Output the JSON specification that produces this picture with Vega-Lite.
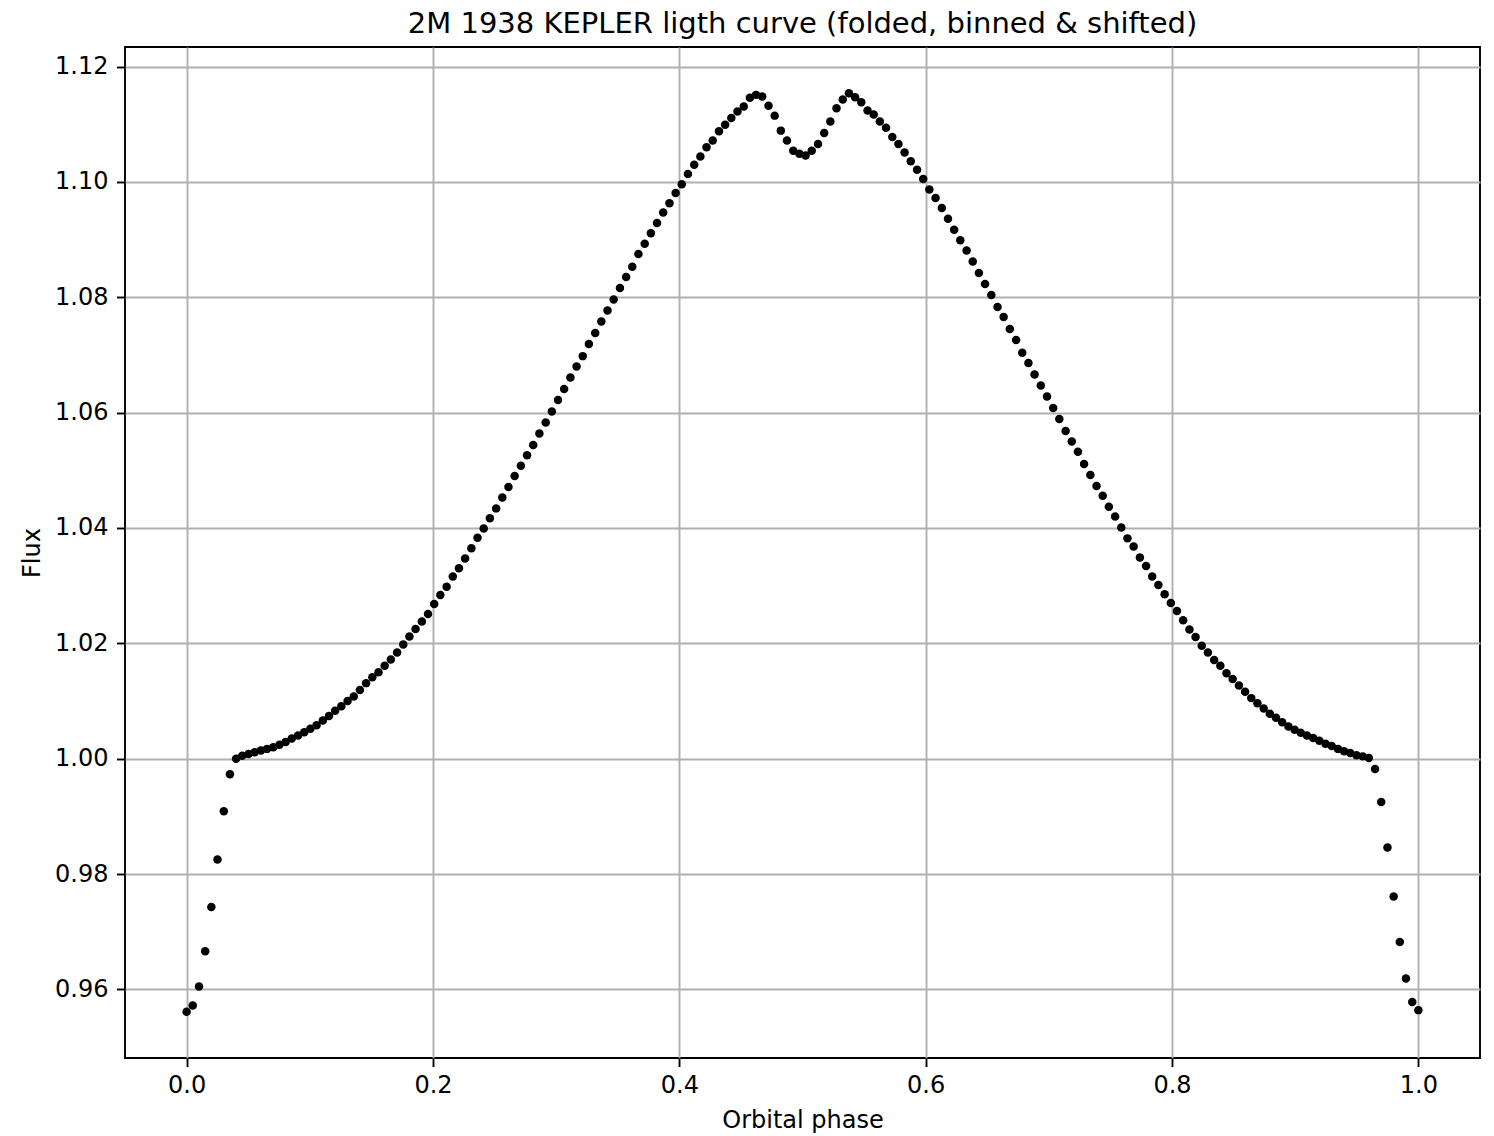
{
  "$schema": "https://vega.github.io/schema/vega-lite/v6.json",
  "autosize": {"type": "none"},
  "padding": {"left": 125, "top": 47, "right": 14, "bottom": 78},
  "width": 1355,
  "height": 1011,
  "background": "white",
  "config": {
    "view": {"stroke": "black", "strokeWidth": 1.9},
    "font": "DejaVu Sans"
  },
  "title": {
    "text": "2M 1938 KEPLER ligth curve (folded, binned & shifted)",
    "font": "DejaVu Sans",
    "fontSize": 29,
    "fontWeight": "normal",
    "color": "black",
    "anchor": "middle",
    "offset": 8.4
  },
  "data": {
    "values": [
      {"phase": 0.0, "flux": 0.9561},
      {"phase": 0.0050, "flux": 0.9572},
      {"phase": 0.0101, "flux": 0.9605},
      {"phase": 0.0151, "flux": 0.9666},
      {"phase": 0.0201, "flux": 0.9743},
      {"phase": 0.0251, "flux": 0.9825},
      {"phase": 0.0302, "flux": 0.9909},
      {"phase": 0.0352, "flux": 0.9973},
      {"phase": 0.0402, "flux": 1.0000},
      {"phase": 0.0452, "flux": 1.0005},
      {"phase": 0.0503, "flux": 1.0008},
      {"phase": 0.0553, "flux": 1.0011},
      {"phase": 0.0603, "flux": 1.0014},
      {"phase": 0.0653, "flux": 1.0017},
      {"phase": 0.0704, "flux": 1.0020},
      {"phase": 0.0754, "flux": 1.0024},
      {"phase": 0.0804, "flux": 1.0029},
      {"phase": 0.0854, "flux": 1.0035},
      {"phase": 0.0905, "flux": 1.0040},
      {"phase": 0.0955, "flux": 1.0046},
      {"phase": 0.1005, "flux": 1.0052},
      {"phase": 0.1055, "flux": 1.0058},
      {"phase": 0.1106, "flux": 1.0066},
      {"phase": 0.1156, "flux": 1.0074},
      {"phase": 0.1206, "flux": 1.0083},
      {"phase": 0.1256, "flux": 1.0091},
      {"phase": 0.1307, "flux": 1.0100},
      {"phase": 0.1357, "flux": 1.0108},
      {"phase": 0.1407, "flux": 1.0119},
      {"phase": 0.1457, "flux": 1.0131},
      {"phase": 0.1508, "flux": 1.0141},
      {"phase": 0.1558, "flux": 1.0150},
      {"phase": 0.1608, "flux": 1.0161},
      {"phase": 0.1658, "flux": 1.0172},
      {"phase": 0.1709, "flux": 1.0184},
      {"phase": 0.1759, "flux": 1.0198},
      {"phase": 0.1809, "flux": 1.0212},
      {"phase": 0.1859, "flux": 1.0225},
      {"phase": 0.1910, "flux": 1.0238},
      {"phase": 0.1960, "flux": 1.0251},
      {"phase": 0.2010, "flux": 1.0268},
      {"phase": 0.2060, "flux": 1.0284},
      {"phase": 0.2111, "flux": 1.0298},
      {"phase": 0.2161, "flux": 1.0316},
      {"phase": 0.2211, "flux": 1.0330},
      {"phase": 0.2261, "flux": 1.0347},
      {"phase": 0.2312, "flux": 1.0365},
      {"phase": 0.2362, "flux": 1.0383},
      {"phase": 0.2412, "flux": 1.0399},
      {"phase": 0.2462, "flux": 1.0417},
      {"phase": 0.2513, "flux": 1.0434},
      {"phase": 0.2563, "flux": 1.0453},
      {"phase": 0.2613, "flux": 1.0471},
      {"phase": 0.2663, "flux": 1.0490},
      {"phase": 0.2714, "flux": 1.0508},
      {"phase": 0.2764, "flux": 1.0526},
      {"phase": 0.2814, "flux": 1.0544},
      {"phase": 0.2864, "flux": 1.0564},
      {"phase": 0.2915, "flux": 1.0583},
      {"phase": 0.2965, "flux": 1.0602},
      {"phase": 0.3015, "flux": 1.0622},
      {"phase": 0.3065, "flux": 1.0641},
      {"phase": 0.3116, "flux": 1.0661},
      {"phase": 0.3166, "flux": 1.0680},
      {"phase": 0.3216, "flux": 1.0698},
      {"phase": 0.3266, "flux": 1.0719},
      {"phase": 0.3317, "flux": 1.0738},
      {"phase": 0.3367, "flux": 1.0758},
      {"phase": 0.3417, "flux": 1.0777},
      {"phase": 0.3467, "flux": 1.0796},
      {"phase": 0.3518, "flux": 1.0816},
      {"phase": 0.3568, "flux": 1.0835},
      {"phase": 0.3618, "flux": 1.0853},
      {"phase": 0.3668, "flux": 1.0875},
      {"phase": 0.3719, "flux": 1.0893},
      {"phase": 0.3769, "flux": 1.0911},
      {"phase": 0.3819, "flux": 1.0929},
      {"phase": 0.3869, "flux": 1.0947},
      {"phase": 0.3920, "flux": 1.0963},
      {"phase": 0.3970, "flux": 1.0981},
      {"phase": 0.4020, "flux": 1.0996},
      {"phase": 0.4070, "flux": 1.1014},
      {"phase": 0.4121, "flux": 1.1030},
      {"phase": 0.4171, "flux": 1.1044},
      {"phase": 0.4221, "flux": 1.1060},
      {"phase": 0.4271, "flux": 1.1072},
      {"phase": 0.4322, "flux": 1.1088},
      {"phase": 0.4372, "flux": 1.1099},
      {"phase": 0.4422, "flux": 1.1111},
      {"phase": 0.4472, "flux": 1.1122},
      {"phase": 0.4523, "flux": 1.1131},
      {"phase": 0.4573, "flux": 1.1146},
      {"phase": 0.4623, "flux": 1.1151},
      {"phase": 0.4673, "flux": 1.1148},
      {"phase": 0.4724, "flux": 1.1132},
      {"phase": 0.4774, "flux": 1.1115},
      {"phase": 0.4824, "flux": 1.1089},
      {"phase": 0.4874, "flux": 1.1072},
      {"phase": 0.4925, "flux": 1.1054},
      {"phase": 0.4975, "flux": 1.1049},
      {"phase": 0.5025, "flux": 1.1046},
      {"phase": 0.5075, "flux": 1.1054},
      {"phase": 0.5126, "flux": 1.1066},
      {"phase": 0.5176, "flux": 1.1085},
      {"phase": 0.5226, "flux": 1.1105},
      {"phase": 0.5276, "flux": 1.1128},
      {"phase": 0.5327, "flux": 1.1143},
      {"phase": 0.5377, "flux": 1.1154},
      {"phase": 0.5427, "flux": 1.1147},
      {"phase": 0.5477, "flux": 1.1138},
      {"phase": 0.5528, "flux": 1.1124},
      {"phase": 0.5578, "flux": 1.1117},
      {"phase": 0.5628, "flux": 1.1105},
      {"phase": 0.5678, "flux": 1.1094},
      {"phase": 0.5729, "flux": 1.1078},
      {"phase": 0.5779, "flux": 1.1066},
      {"phase": 0.5829, "flux": 1.1051},
      {"phase": 0.5879, "flux": 1.1036},
      {"phase": 0.5930, "flux": 1.1021},
      {"phase": 0.5980, "flux": 1.1005},
      {"phase": 0.6030, "flux": 1.0987},
      {"phase": 0.6080, "flux": 1.0972},
      {"phase": 0.6131, "flux": 1.0955},
      {"phase": 0.6181, "flux": 1.0936},
      {"phase": 0.6231, "flux": 1.0917},
      {"phase": 0.6281, "flux": 1.0899},
      {"phase": 0.6332, "flux": 1.0881},
      {"phase": 0.6382, "flux": 1.0862},
      {"phase": 0.6432, "flux": 1.0842},
      {"phase": 0.6482, "flux": 1.0823},
      {"phase": 0.6533, "flux": 1.0804},
      {"phase": 0.6583, "flux": 1.0783},
      {"phase": 0.6633, "flux": 1.0766},
      {"phase": 0.6683, "flux": 1.0745},
      {"phase": 0.6734, "flux": 1.0726},
      {"phase": 0.6784, "flux": 1.0704},
      {"phase": 0.6834, "flux": 1.0686},
      {"phase": 0.6884, "flux": 1.0666},
      {"phase": 0.6935, "flux": 1.0647},
      {"phase": 0.6985, "flux": 1.0628},
      {"phase": 0.7035, "flux": 1.0608},
      {"phase": 0.7085, "flux": 1.0589},
      {"phase": 0.7136, "flux": 1.0568},
      {"phase": 0.7186, "flux": 1.0550},
      {"phase": 0.7236, "flux": 1.0532},
      {"phase": 0.7286, "flux": 1.0511},
      {"phase": 0.7337, "flux": 1.0492},
      {"phase": 0.7387, "flux": 1.0473},
      {"phase": 0.7437, "flux": 1.0456},
      {"phase": 0.7487, "flux": 1.0437},
      {"phase": 0.7538, "flux": 1.0420},
      {"phase": 0.7588, "flux": 1.0401},
      {"phase": 0.7638, "flux": 1.0382},
      {"phase": 0.7688, "flux": 1.0368},
      {"phase": 0.7739, "flux": 1.0349},
      {"phase": 0.7789, "flux": 1.0334},
      {"phase": 0.7839, "flux": 1.0316},
      {"phase": 0.7889, "flux": 1.0301},
      {"phase": 0.7940, "flux": 1.0285},
      {"phase": 0.7990, "flux": 1.0270},
      {"phase": 0.8040, "flux": 1.0256},
      {"phase": 0.8090, "flux": 1.0240},
      {"phase": 0.8141, "flux": 1.0224},
      {"phase": 0.8191, "flux": 1.0211},
      {"phase": 0.8241, "flux": 1.0196},
      {"phase": 0.8291, "flux": 1.0184},
      {"phase": 0.8342, "flux": 1.0171},
      {"phase": 0.8392, "flux": 1.0161},
      {"phase": 0.8442, "flux": 1.0148},
      {"phase": 0.8492, "flux": 1.0138},
      {"phase": 0.8543, "flux": 1.0127},
      {"phase": 0.8593, "flux": 1.0116},
      {"phase": 0.8643, "flux": 1.0105},
      {"phase": 0.8693, "flux": 1.0096},
      {"phase": 0.8744, "flux": 1.0087},
      {"phase": 0.8794, "flux": 1.0078},
      {"phase": 0.8844, "flux": 1.0071},
      {"phase": 0.8894, "flux": 1.0063},
      {"phase": 0.8945, "flux": 1.0056},
      {"phase": 0.8995, "flux": 1.0050},
      {"phase": 0.9045, "flux": 1.0045},
      {"phase": 0.9095, "flux": 1.0040},
      {"phase": 0.9146, "flux": 1.0036},
      {"phase": 0.9196, "flux": 1.0031},
      {"phase": 0.9246, "flux": 1.0026},
      {"phase": 0.9296, "flux": 1.0022},
      {"phase": 0.9347, "flux": 1.0017},
      {"phase": 0.9397, "flux": 1.0013},
      {"phase": 0.9447, "flux": 1.0010},
      {"phase": 0.9497, "flux": 1.0006},
      {"phase": 0.9548, "flux": 1.0004},
      {"phase": 0.9598, "flux": 1.0001},
      {"phase": 0.9648, "flux": 0.9982},
      {"phase": 0.9698, "flux": 0.9925},
      {"phase": 0.9749, "flux": 0.9846},
      {"phase": 0.9799, "flux": 0.9761},
      {"phase": 0.9849, "flux": 0.9682},
      {"phase": 0.9899, "flux": 0.9619},
      {"phase": 0.9950, "flux": 0.9578},
      {"phase": 1.0, "flux": 0.9564}
    ]
  },
  "mark": {"type": "circle", "color": "black", "opacity": 1, "size": 72},
  "encoding": {
    "x": {
      "field": "phase",
      "type": "quantitative",
      "scale": {"domain": [-0.05, 1.05], "nice": false, "zero": false},
      "axis": {
        "values": [0, 0.2, 0.4, 0.6, 0.8, 1.0],
        "format": ".1f",
        "title": "Orbital phase",
        "grid": true,
        "gridColor": "#b0b0b0",
        "gridWidth": 1.9,
        "domain": false,
        "tickColor": "black",
        "tickSize": 8.5,
        "tickWidth": 1.9,
        "labelPadding": 7,
        "labelFont": "DejaVu Sans",
        "labelFontSize": 24,
        "labelColor": "black",
        "titleFont": "DejaVu Sans",
        "titleFontSize": 24,
        "titleFontWeight": "normal",
        "titleColor": "black",
        "titlePadding": 11
      }
    },
    "y": {
      "field": "flux",
      "type": "quantitative",
      "scale": {"domain": [0.9481, 1.1234], "nice": false, "zero": false},
      "axis": {
        "values": [0.96, 0.98, 1.0, 1.02, 1.04, 1.06, 1.08, 1.1, 1.12],
        "format": ".2f",
        "title": "Flux",
        "grid": true,
        "gridColor": "#b0b0b0",
        "gridWidth": 1.9,
        "domain": false,
        "tickColor": "black",
        "tickSize": 8.5,
        "tickWidth": 1.9,
        "labelPadding": 8.5,
        "labelFont": "DejaVu Sans",
        "labelFontSize": 24,
        "labelColor": "black",
        "titleFont": "DejaVu Sans",
        "titleFontSize": 24,
        "titleFontWeight": "normal",
        "titleColor": "black",
        "titlePadding": 10
      }
    }
  }
}
